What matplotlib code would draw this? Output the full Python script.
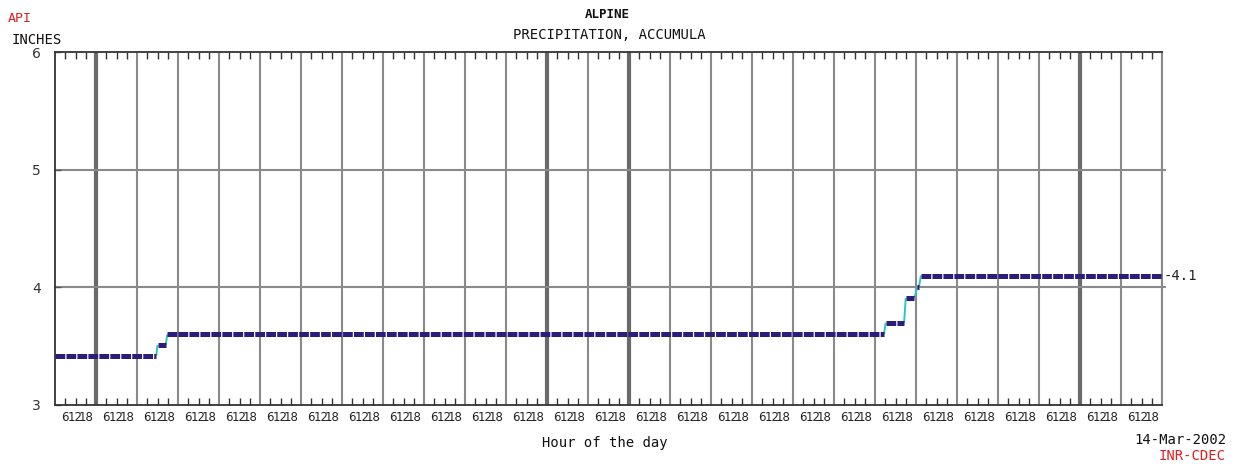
import matplotlib
matplotlib.use("Agg")
import matplotlib.pyplot as plt
import numpy as np

plt.rcParams["lines.scale_dashes"] = False

# ---- data (x in days from start of window, y in inches) ----
n_days = 27
seg_start = [0.00, 2.50, 2.74, 20.26, 20.75, 21.03, 21.12]
seg_end   = [2.47, 2.70, 20.22, 20.71, 20.96, 21.07, 27.00]
seg_value = [3.42, 3.51, 3.60, 3.70, 3.91, 4.00, 4.10]
thick_days = [1, 12, 14, 25]
hour_ticks = [6, 12, 18]
y_ticks = [3, 4, 5, 6]
last_value_label = "4.1"

NAVY = "#2b1d7c"
CYAN = "#2cc6c6"
GRID = "#8a8a8a"
GRID_DARK = "#6a6a6a"
RED = "#e02020"
FONT = "DejaVu Sans Mono"

fig = plt.figure(figsize=(12.38, 4.67), dpi=100)
ax = fig.add_axes([55/1238, 1-405/467, (1162-55)/1238, (405-52)/467])
ax.set_xlim(0, n_days)
ax.set_ylim(3, 6)

# grid
for d in range(1, n_days + 1):
    if d in thick_days:
        ax.axvline(d, color=GRID_DARK, lw=3.0, zorder=1)
    else:
        ax.axvline(d, color=GRID, lw=1.5, zorder=1)
for yv in [4, 5]:
    ax.plot([0, n_days + 0.08], [yv, yv], color=GRID, lw=1.5, zorder=1, clip_on=False)

# connectors
for i in range(len(seg_value) - 1):
    ax.plot([seg_end[i], seg_start[i + 1]], [seg_value[i], seg_value[i + 1]],
            color=CYAN, lw=1.4, zorder=2, solid_capstyle="butt")
# level segments
for s, e, v in zip(seg_start, seg_end, seg_value):
    ax.plot([s, e], [v, v], color=NAVY, lw=3.6, zorder=3,
            solid_capstyle="butt", dash_capstyle="butt",
            dashes=[7, 0.9] if e - s > 0.3 else [])

# last value label
ax.text(n_days + 0.03, seg_value[-1], "-" + last_value_label, fontsize=10, family=FONT,
        va="center", ha="left", color="#222222")

# ticks
xt = [d + h / 24 for d in range(n_days) for h in hour_ticks]
xl = [str(h) for d in range(n_days) for h in hour_ticks]
ax.set_xticks(xt)
ax.set_xticklabels(xl, fontsize=8.5, family="DejaVu Sans", color="#222222")
ax.tick_params(axis="x", direction="in", length=5, width=1, top=True, bottom=True,
               color="#333333", pad=4)
ax.set_yticks(y_ticks)
ax.set_yticklabels([str(v) for v in y_ticks], fontsize=10, family="DejaVu Sans", color="#333333")
ax.tick_params(axis="y", direction="in", length=4, width=1, color="#555555", pad=10)

for sp in ["left", "top", "bottom"]:
    ax.spines[sp].set_color("#333333")
    ax.spines[sp].set_linewidth(1.3)
ax.spines["right"].set_color(GRID)
ax.spines["right"].set_linewidth(1.5)

# texts
fig.text(8/1238, 1-19/467, "API", color=RED, fontsize=9.5, family=FONT, va="center", ha="left")
fig.text(12/1238, 1-40/467, "INCHES", color="#111111", fontsize=10, family=FONT, va="center", ha="left")
fig.text(607/1238, 1-14/467, "ALPINE", color="#111111", fontsize=9, family=FONT, va="center", ha="center", weight="bold")
fig.text(609/1238, 1-35/467, "PRECIPITATION, ACCUMULA", color="#111111", fontsize=10, family=FONT, va="center", ha="center")
fig.text(605/1238, 1-443/467, "Hour of the day", color="#111111", fontsize=10, family=FONT, va="center", ha="center")
fig.text(1226/1238, 1-440/467, "14-Mar-2002", color="#111111", fontsize=10, family=FONT, va="center", ha="right")
fig.text(1226/1238, 1-456/467, "INR-CDEC", color=RED, fontsize=10, family=FONT, va="center", ha="right")

fig.savefig("out.png", dpi=100, facecolor="white")
